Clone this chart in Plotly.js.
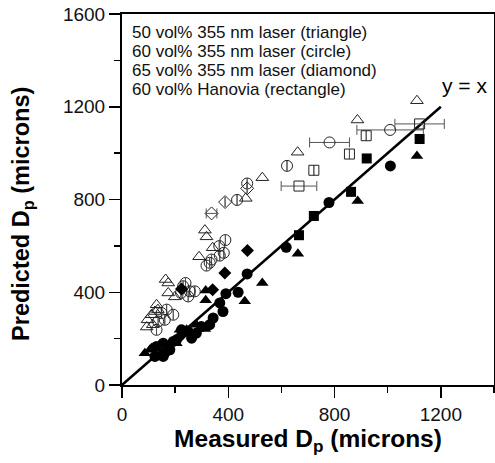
<!DOCTYPE html>
<html>
<head>
<meta charset="utf-8">
<script src="https://cdn.plot.ly/plotly-3.0.1.min.js"></script>
<style>html,body{margin:0;padding:0;background:#fff;}#chart{width:495px;height:463px;}</style>
</head>
<body>
<div id="chart"></div>
<script>
// Open triangles (50 vol% 355 nm laser)
var otX = [1110, 886, 661, 528, 466, 312, 318, 341, 290, 164, 174, 174, 199, 130, 124, 111, 96, 93, 116, 135];
var otY = [1226, 1143, 1004, 894, 805, 668, 639, 592, 553, 455, 440, 397, 380, 346, 317, 303, 281, 250, 260, 325];
// Filled triangles
var ftX = [1110, 887, 662, 528, 462, 315, 315, 312, 280, 243, 218, 205, 111, 86, 105];
var ftY = [988, 794, 566, 440, 361, 408, 365, 241, 260, 238, 238, 180, 159, 137, 152];
// Open circles (60 vol% 355 nm laser)
var ocX = [1009, 781, 621, 471, 433, 389, 366, 383, 368, 337, 330, 318, 239, 230, 255, 274, 249, 222, 168, 149, 161, 136, 130, 193];
var ocY = [1100, 1046, 945, 869, 798, 625, 599, 570, 558, 541, 527, 515, 440, 426, 404, 404, 382, 397, 325, 310, 281, 274, 238, 303];
var ocErr = [125, 75, 0, 0, 0, 0, 0, 0, 0, 0, 0, 0, 0, 0, 0, 0, 0, 0, 0, 0, 0, 0, 0, 0];
// Filled circles
var fcX = [1010, 779, 618, 471, 437, 391, 368, 380, 343, 330, 299, 280, 262, 249, 224, 205, 193, 180, 155, 130, 155, 124, 161];
var fcY = [945, 787, 594, 479, 400, 394, 354, 317, 289, 260, 252, 224, 202, 231, 238, 195, 188, 152, 180, 166, 123, 123, 137];
// Open diamonds (65 vol% 355 nm laser)
var odX = [471, 388, 337];
var odY = [848, 789, 740];
var odErr = [0, 0, 20];
// Filled diamonds
var fdX = [472, 387, 341, 224, 224];
var fdY = [580, 483, 411, 216, 414];
// Open squares (60 vol% Hanovia)
var osX = [1120, 919, 856, 722, 666];
var osY = [1126, 1075, 996, 926, 858];
var osErr = [93, 0, 0, 0, 67];
// Filled squares
var fsX = [1120, 921, 862, 722, 666];
var fsY = [1061, 977, 833, 729, 646];
// Reference line y = x
var lineX = [0, 1200];
var lineY = [0, 1200];

var legendLines = [
  "50 vol% 355 nm laser (triangle)",
  "60 vol% 355 nm laser (circle)",
  "65 vol% 355 nm laser (diamond)",
  "60 vol% Hanovia (rectangle)"
];
var xTicks = [0, 400, 800, 1200];
var yTicks = [0, 400, 800, 1200, 1600];

var FONT = "Arial, 'Liberation Sans', sans-serif";
var openCol = "#222";
var errStyle = function(arr){ return {type:'data', array:arr, visible:true, color:'#555', thickness:1, width:5}; };

var traces = [
  {x: lineX, y: lineY, mode:'lines', line:{color:'#000', width:2.5}, hoverinfo:'skip'},
  {x: otX, y: otY, mode:'markers', marker:{symbol:'triangle-up-open', size:11, color:openCol, line:{width:1}}},
  {x: ocX, y: ocY, mode:'markers', error_x: errStyle(ocErr), marker:{symbol:'circle-open', size:11, color:openCol, line:{width:1}}},
  {x: odX, y: odY, mode:'markers', error_x: errStyle(odErr), marker:{symbol:'diamond-open', size:10, color:openCol, line:{width:1}}},
  {x: osX, y: osY, mode:'markers', error_x: errStyle(osErr), marker:{symbol:'square-open', size:10, color:openCol, line:{width:1}}},
  {x: ftX, y: ftY, mode:'markers', marker:{symbol:'triangle-up', size:11, color:'#000'}},
  {x: fcX, y: fcY, mode:'markers', marker:{symbol:'circle', size:11, color:'#000'}},
  {x: fdX, y: fdY, mode:'markers', marker:{symbol:'diamond', size:10, color:'#000'}},
  {x: fsX, y: fsY, mode:'markers', marker:{symbol:'square', size:10, color:'#000'}}
];

var annotations = legendLines.map(function(t, i){
  return {xref:'paper', yref:'paper', x:0.022, y:0.951 - i*0.0512, xanchor:'left', yanchor:'middle',
          text:t, showarrow:false, font:{family:FONT, size:17, color:'#111'}};
});
annotations.push({x:1290, y:1292, xref:'x', yref:'y', text:'y = x', showarrow:false,
  font:{family:FONT, size:21, color:'#000'}});
// y-axis title placed as rotated annotation (slightly below plot centre, as in the reference)
annotations.push({xref:'paper', yref:'paper', x:-0.268, y:0.462, xanchor:'center', yanchor:'middle',
  textangle:-90, showarrow:false, text:'<b>Predicted D<sub>p</sub> (microns)</b>',
  font:{family:FONT, size:23.5, color:'#000'}});

var layout = {
  width:495, height:463,
  margin:{l:122, r:1, t:14, b:78},
  paper_bgcolor:'#fff', plot_bgcolor:'#fff',
  showlegend:false,
  font:{family:FONT, color:'#111'},
  xaxis:{range:[0,1400], tickvals:xTicks, ticktext:xTicks.map(String), ticks:'outside', ticklen:11, tickwidth:1.5, tickcolor:'#000',
    minor:{dtick:200, tick0:0, ticks:'outside', ticklen:6, tickwidth:1.5, tickcolor:'#000'},
    showline:true, linewidth:2, linecolor:'#000', mirror:true, showgrid:false, zeroline:false,
    tickfont:{family:FONT, size:19, color:'#111'},
    title:{text:'<b>Measured D<sub>p</sub> (microns)</b>', font:{family:FONT, size:24.5, color:'#000'}, standoff:6}},
  yaxis:{range:[0,1600], tickvals:yTicks, ticktext:yTicks.map(String), ticks:'outside', ticklen:11, tickwidth:1.5, tickcolor:'#000',
    minor:{dtick:200, tick0:0, ticks:'outside', ticklen:6, tickwidth:1.5, tickcolor:'#000'},
    showline:true, linewidth:2, linecolor:'#000', mirror:true, showgrid:false, zeroline:false,
    tickfont:{family:FONT, size:19, color:'#111'}},
  annotations: annotations
};

Plotly.newPlot('chart', traces, layout, {displayModeBar:false, staticPlot:true});
</script>
</body>
</html>
